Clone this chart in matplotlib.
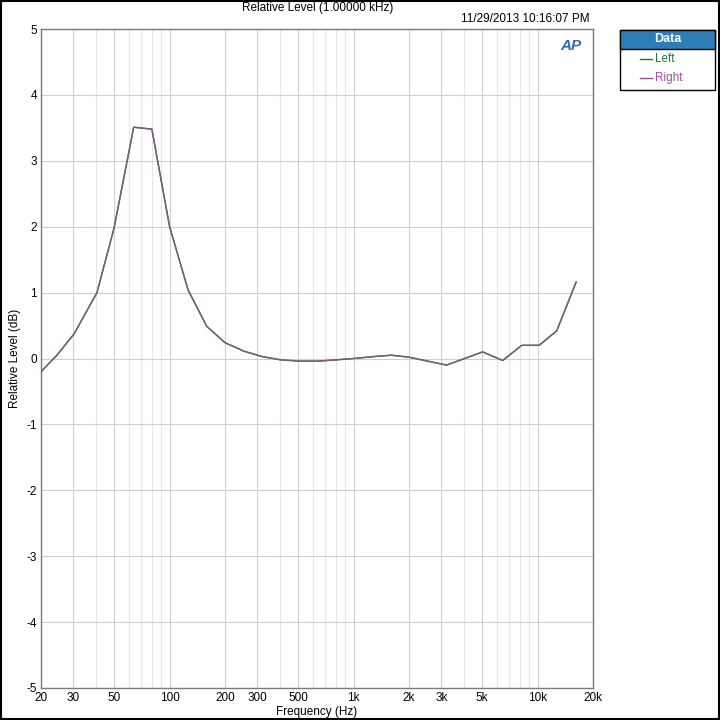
import matplotlib
matplotlib.use("Agg")
import matplotlib.pyplot as plt
from matplotlib.patches import Rectangle
from matplotlib.lines import Line2D

plt.rcParams['font.family'] = ['Liberation Sans Narrow', 'Liberation Sans', 'DejaVu Sans']
plt.rcParams['axes.unicode_minus'] = False

freq = [20, 24.4, 30.2, 40.3, 49.9, 63.8, 80.1, 100, 126, 159, 200, 254, 318, 400,
        509, 640, 806, 1000, 1300, 1600, 2000, 3200, 5030, 6460, 8200, 10200, 12700, 16200]
level = [-0.2, 0.05, 0.37, 1.0, 1.98, 3.51, 3.48, 2.0, 1.04, 0.49, 0.24, 0.11, 0.03, -0.02,
         -0.04, -0.04, -0.02, 0.0, 0.03, 0.05, 0.02, -0.1, 0.1, -0.03, 0.2, 0.2, 0.42, 1.16]

xticks = [20, 30, 50, 100, 200, 300, 500, 1000, 2000, 3000, 5000, 10000, 20000]
xticklabels = ["20", "30", "50", "100", "200", "300", "500", "1k", "2k", "3k", "5k", "10k", "20k"]
minor_grid = [40, 60, 70, 80, 90, 400, 600, 700, 800, 900, 4000, 6000, 7000, 8000, 9000]

fig = plt.figure(figsize=(7.2, 7.2), dpi=100)
fig.patch.set_facecolor("white")
ax = fig.add_axes([41/720, 32/720, 552/720, 659/720])

ax.set_xscale("log")
ax.set_xlim(20, 20000)
ax.set_ylim(-5, 5)
ax.set_yticks(range(-5, 6))
ax.set_xticks(xticks)
ax.set_xticklabels(xticklabels)
ax.xaxis.set_minor_locator(matplotlib.ticker.NullLocator())
for f in minor_grid:
    ax.axvline(f, color="#e6e6e6", linewidth=0.8, zorder=0)
ax.grid(True, which="major", color="#cfcfcf", linewidth=0.8, zorder=0)
ax.tick_params(length=0, labelsize=8.5, pad=3, colors="black")

for sp in ax.spines.values():
    sp.set_edgecolor("#7a7a7a")
    sp.set_linewidth(1)

ax.plot(freq, level, color="#1f7a3f", linewidth=1.0, zorder=3)
ax.plot(freq, level, color="#82577f", linewidth=1.0, zorder=4)

ax.set_xlabel("Frequency (Hz)", fontsize=8.5, labelpad=1)
ax.set_ylabel("Relative Level (dB)", fontsize=8.5, labelpad=4)

fig.text(318/720, 1 - 8/720, "Relative Level (1.00000 kHz)", ha="center", va="center", fontsize=8.5)
fig.text(590/720, 1 - 19/720, "11/29/2013 10:16:07 PM", ha="right", va="center", fontsize=8.5)
fig.text(571/720, 1 - 46/720, "AP", ha="center", va="center", fontsize=11, color="#2a6fb5",
         fontweight="bold", style="italic")

# legend box
lx, ly, lw, lh = 620/720, 1 - 90/720, 95/720, 60/720
fig.patches.append(Rectangle((lx, ly), lw, lh, transform=fig.transFigure,
                             facecolor="white", edgecolor="black", linewidth=1))
fig.patches.append(Rectangle((lx, ly + lh - 19/720), lw, 19/720, transform=fig.transFigure,
                             facecolor="#2e7db6", edgecolor="black", linewidth=1))
fig.text(lx + lw/2, ly + lh - 9.5/720, "Data", ha="center", va="center", fontsize=9,
         fontweight="bold", color="white")
for i, (name, col) in enumerate([("Left", "#1f7a3f"), ("Right", "#a0509e")]):
    yy = 1 - (59 + 19*i)/720
    fig.lines.append(Line2D([640/720, 652/720], [yy, yy], transform=fig.transFigure,
                            color=col, linewidth=1))
    fig.text(655/720, yy, name, ha="left", va="center", fontsize=8.5, color=col)

# outer frame
fig.patches.append(Rectangle((0.0007, 0.0007), 0.9986, 0.9986, transform=fig.transFigure,
                             facecolor="none", edgecolor="black", linewidth=1.5))

fig.savefig("out.png", dpi=100)
